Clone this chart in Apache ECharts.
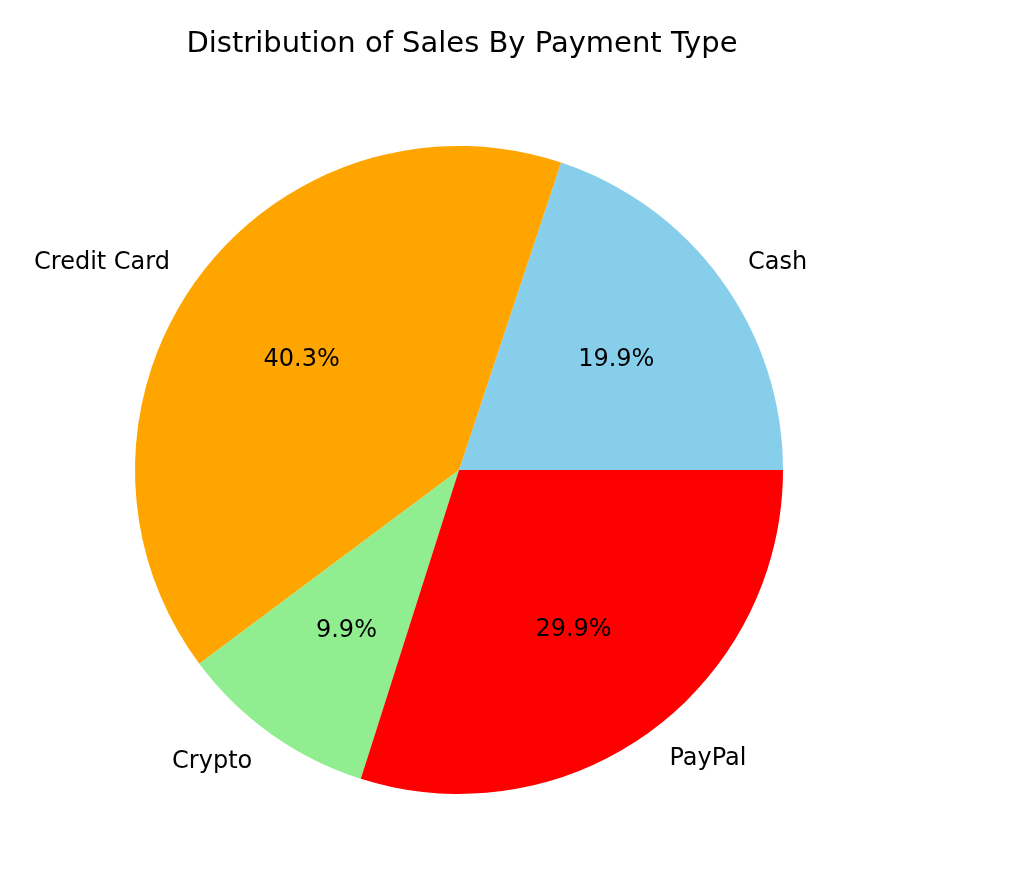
<!DOCTYPE html>
<html>
<head>
<meta charset="utf-8">
<script src="https://cdn.jsdelivr.net/npm/echarts@6/dist/echarts.min.js"></script>
<style>
  html, body { margin: 0; padding: 0; background: #fff; }
  #chart { width: 1012px; height: 869px; }
</style>
</head>
<body>
<div id="chart"></div>
<script>
// data (share of sales, %)
const paymentTypes = ['Cash', 'Credit Card', 'Crypto', 'PayPal']
const salesShare = [19.9, 40.3, 9.9, 29.9]
const sliceColors = ['#87CEEB', '#FFA500', '#90EE90', '#FF0000']

const R = 324
const center = [459, 470]
const font = "'DejaVu Sans', sans-serif"

const pieData = paymentTypes.map((name, i) => ({
    name: name,
    value: salesShare[i],
    itemStyle: { color: sliceColors[i] }
}))

const chart = echarts.init(document.getElementById('chart'), null, { renderer: 'canvas' })
chart.setOption({
    animation: false,
    backgroundColor: '#fff',
    title: {
        text: 'Distribution of Sales By Payment Type',
        left: 457,
        textAlign: 'center',
        top: 25,
        textStyle: { fontFamily: font, fontSize: 29, fontWeight: 'normal', color: '#000' }
    },
    series: [
        {
            // slices + outer name labels (at 1.1 r)
            type: 'pie',
            center: center,
            radius: [0, R],
            startAngle: 0,
            clockwise: false,
            avoidLabelOverlap: false,
            silent: true,
            label: {
                show: true,
                position: 'outside',
                formatter: '{b}',
                fontFamily: font,
                fontSize: 24,
                color: '#000',
                offset: [0, 1]
            },
            labelLine: { show: false, length: R * 0.1, length2: -5 },
            itemStyle: { borderWidth: 0 },
            data: pieData
        },
        {
            // transparent ring used only to place percentages at ~0.6 r
            type: 'pie',
            center: center,
            radius: [58, R],
            startAngle: 0,
            clockwise: false,
            avoidLabelOverlap: false,
            silent: true,
            label: {
                show: true,
                position: 'inside',
                formatter: function (p) { return p.value.toFixed(1) + '%' },
                fontFamily: font,
                fontSize: 24,
                color: '#000',
                offset: [0, 3]
            },
            labelLine: { show: false },
            itemStyle: { color: 'rgba(0,0,0,0)', borderWidth: 0 },
            data: paymentTypes.map((name, i) => ({ name: name, value: salesShare[i] }))
        }
    ]
})
</script>
</body>
</html>
